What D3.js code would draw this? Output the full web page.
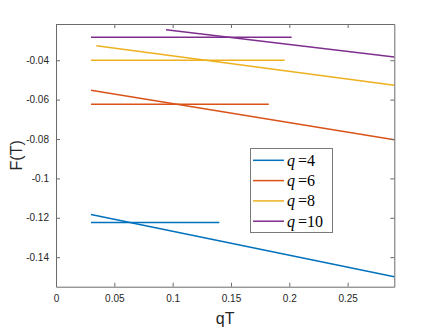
<!DOCTYPE html>
<html><head><meta charset="utf-8">
<script src="https://cdn.jsdelivr.net/npm/d3@7"></script>
<style>body{margin:0;background:#fff}svg{display:block}</style>
</head><body><svg id="c" width="436" height="327"></svg>
<script>
const qValues = [4, 6, 8, 10];
const colors = ["#0072BD", "#D95319", "#EDB120", "#7E2F8E"];
// flat (constant) lines
const flatX0 = [0.03, 0.03, 0.03, 0.03];
const flatX1 = [0.140, 0.1824, 0.196, 0.202];
const flatY  = [-0.1224, -0.0623, -0.0400, -0.0283];
// sloped lines
const slopeX0 = [0.03, 0.03, 0.0346, 0.0943];
const slopeY0 = [-0.1183, -0.0553, -0.0326, -0.0245];
const slopeX1 = [0.29, 0.29, 0.29, 0.29];
const slopeY1 = [-0.1500, -0.0804, -0.0527, -0.0383];
const xTicks = [0, 0.05, 0.1, 0.15, 0.2, 0.25];
const xTickLabels = ["0", "0.05", "0.1", "0.15", "0.2", "0.25"];
const yTicks = [-0.14, -0.12, -0.1, -0.08, -0.06, -0.04];
const yTickLabels = ["-0.14", "-0.12", "-0.1", "-0.08", "-0.06", "-0.04"];

const L = 56, R = 394.3, T = 24, B = 286.7;
const svg = d3.select("#c");
const x = d3.scaleLinear().domain([0, 0.29]).range([L, R]);
const y = d3.scaleLinear().domain([-0.155, -0.0216]).range([B, T]);
const axisColor = "#262626";

const line = d3.line().x(d => x(d[0])).y(d => y(d[1]));
const g = svg.append("g");
qValues.forEach((q, i) => {
  g.append("path").attr("d", line([[flatX0[i], flatY[i]], [flatX1[i], flatY[i]]]))
    .attr("fill", "none").attr("stroke", colors[i]).attr("stroke-width", 1.5);
  g.append("path").attr("d", line([[slopeX0[i], slopeY0[i]], [slopeX1[i], slopeY1[i]]]))
    .attr("fill", "none").attr("stroke", colors[i]).attr("stroke-width", 1.5);
});

// axes
const fmtX = (d, i) => xTickLabels[i];
const fmtY = (d, i) => yTickLabels[i];
const axB = svg.append("g").attr("transform", `translate(0,${B})`)
  .call(d3.axisBottom(x).tickValues(xTicks).tickFormat(fmtX).tickSizeInner(-4).tickSizeOuter(0).tickPadding(8));
const axT = svg.append("g").attr("transform", `translate(0,${T})`)
  .call(d3.axisTop(x).tickValues(xTicks).tickFormat("").tickSizeInner(-4).tickSizeOuter(0));
const axL = svg.append("g").attr("transform", `translate(${L},0)`)
  .call(d3.axisLeft(y).tickValues(yTicks).tickFormat(fmtY).tickSizeInner(-4).tickSizeOuter(0).tickPadding(7));
const axR = svg.append("g").attr("transform", `translate(${R},0)`)
  .call(d3.axisRight(y).tickValues(yTicks).tickFormat("").tickSizeInner(-4).tickSizeOuter(0));
[axB, axT, axL, axR].forEach(a => {
  a.selectAll("path.domain").attr("stroke", "#6b6b6b").attr("stroke-width", 1);
  a.selectAll(".tick line").attr("stroke", "#6b6b6b");
  a.selectAll("text").attr("fill", axisColor).attr("font-family", "Liberation Sans, Arial, sans-serif").attr("font-size", 10);
});
axB.selectAll("text").attr("dy", "0.71em");

svg.append("text").attr("x", (L + R) / 2).attr("y", 324).attr("text-anchor", "middle")
  .attr("font-family", "Liberation Sans, Arial, sans-serif").attr("font-size", 16).attr("fill", axisColor).text("qT");
svg.append("text").attr("transform", `translate(22,${(T + B) / 2}) rotate(-90)`).attr("text-anchor", "middle")
  .attr("font-family", "Liberation Sans, Arial, sans-serif").attr("font-size", 16).attr("fill", axisColor).text("F(T)");

// legend
const lg = svg.append("g");
lg.append("rect").attr("x", 250.5).attr("y", 148.5).attr("width", 82).attr("height", 84)
  .attr("fill", "#fff").attr("stroke", "#7a7a7a").attr("stroke-width", 1);
qValues.forEach((q, i) => {
  const yy = 160.3 + i * 20.3;
  lg.append("line").attr("x1", 253).attr("x2", 284).attr("y1", yy).attr("y2", yy)
    .attr("stroke", colors[i]).attr("stroke-width", 1.5);
  const t = lg.append("text").attr("x", 287).attr("y", yy + 5.5)
    .attr("font-family", "Liberation Serif, Times New Roman, serif").attr("font-size", 16).attr("fill", "#000");
  t.append("tspan").attr("font-style", "italic").text("q");
  t.append("tspan").attr("dx", 3).text("=" + q);
});
</script></body></html>
